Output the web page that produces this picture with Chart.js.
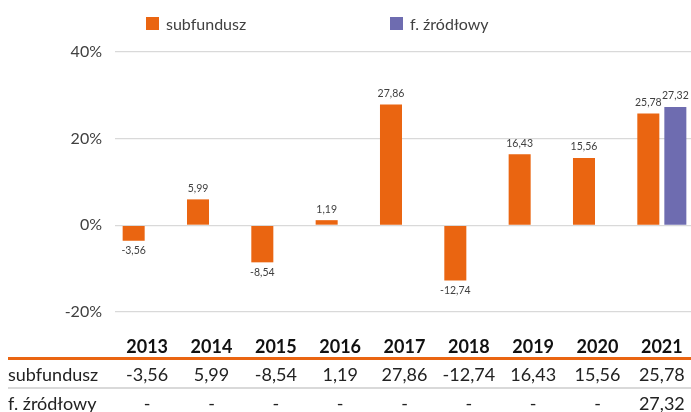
<!DOCTYPE html>
<html><head><meta charset="utf-8">
<script src="https://cdn.jsdelivr.net/npm/chart.js@4/dist/chart.umd.min.js"></script>
<style>
html,body{margin:0;padding:0;overflow:hidden;background:#fff;width:691px;height:412px;}
#wrap{position:absolute;left:0;top:0;width:720px;height:412px;}
#legend{position:absolute;left:0;top:0;width:691px;height:40px;font-family:Lato,sans-serif;font-size:16px;color:#404040;}
.li{position:absolute;top:16px;height:15px;display:flex;align-items:center;white-space:nowrap;}
.sw{width:13px;height:13px;margin-right:7px;display:inline-block;}
</style></head>
<body>
<div id="wrap"><canvas id="c"></canvas></div>
<div id="legend"></div>
<script>
const years = ['2013','2014','2015','2016','2017','2018','2019','2020','2021'];
const subfundusz = [-3.56, 5.99, -8.54, 1.19, 27.86, -12.74, 16.43, 15.56, 25.78];
const zrodlowy = [null, null, null, null, null, null, null, null, 27.32];
const seriesNames = ['subfundusz', 'f. źródłowy'];
const seriesColors = ['#EA6511', '#6E6CB0'];
const yMin = -20, yMax = 40, yStep = 20;

const fmt = v => v == null ? '-' : v.toFixed(2).replace('.', ',');
const FONT = 'Lato, sans-serif';

const dataLabels = {
  id: 'dataLabels',
  afterDatasetsDraw(chart) {
    const ctx = chart.ctx;
    ctx.save();
    ctx.font = '10.5px ' + FONT;
    ctx.fillStyle = '#404040';
    ctx.textAlign = 'center';
    ctx.textBaseline = 'middle';
    chart.data.datasets.forEach((ds, di) => {
      const meta = chart.getDatasetMeta(di);
      meta.data.forEach((bar, i) => {
        const v = ds.data[i];
        if (v == null) return;
        const y = v >= 0 ? bar.y - 11 : bar.y + 10;
        ctx.fillText(fmt(v), bar.x, y);
      });
    });
    ctx.restore();
  }
};

const dataTable = {
  id: 'dataTable',
  afterDraw(chart) {
    const ctx = chart.ctx;
    const xs = chart.scales.x;
    const W = chart.width;
    ctx.save();
    ctx.fillStyle = '#EA6511';
    ctx.fillRect(8, 357, W - 8, 3);
    ctx.fillStyle = '#d9d9d9';
    ctx.fillRect(8, 387, W - 8, 2);
    const rows = [[seriesNames[0], subfundusz, 375], [seriesNames[1], zrodlowy, 404]];
    ctx.font = '18px ' + FONT;
    ctx.fillStyle = '#222';
    ctx.textBaseline = 'middle';
    rows.forEach(([label, arr, y]) => {
      ctx.textAlign = 'left';
      ctx.fillText(label, 8, y);
      ctx.textAlign = 'center';
      arr.forEach((v, i) => ctx.fillText(fmt(v), xs.getPixelForValue(i), y));
    });
    ctx.restore();
  }
};

const chart = new Chart(document.getElementById('c'), {
  type: 'bar',
  data: {
    labels: years,
    datasets: [
      { label: seriesNames[0], data: subfundusz, backgroundColor: seriesColors[0], categoryPercentage: 0.84, barPercentage: 0.815 },
      { label: seriesNames[1], data: zrodlowy, backgroundColor: seriesColors[1], categoryPercentage: 0.84, barPercentage: 0.815 }
    ]
  },
  options: {
    responsive: true,
    maintainAspectRatio: false,
    animation: false,
    layout: { padding: { top: 52, right: 26, bottom: 0, left: 0 } },
    plugins: { legend: { display: false }, tooltip: { enabled: false } },
    scales: {
      x: {
        grid: { display: false, drawTicks: false },
        border: { display: false },
        ticks: { padding: 24, color: '#111', font: { family: FONT, size: 18, weight: 'bold' } },
        afterFit(s) { s.height = 100; }
      },
      y: {
        min: yMin, max: yMax,
        grid: { color: '#d9d9d9', lineWidth: 1.3, drawTicks: false },
        border: { display: false },
        ticks: { stepSize: yStep, padding: 13, color: '#404040', font: { family: FONT, size: 16 }, callback: v => v + '%' },
        afterFit(s) { s.width = 115; }
      }
    }
  },
  plugins: [dataLabels, dataTable]
});

// legend built from the datasets
const legend = document.getElementById('legend');
const legendLeft = [146, 390];
chart.data.datasets.forEach((ds, i) => {
  const d = document.createElement('div');
  d.className = 'li';
  d.style.left = legendLeft[i] + 'px';
  const s = document.createElement('span');
  s.className = 'sw';
  s.style.background = ds.backgroundColor;
  d.appendChild(s);
  d.appendChild(document.createTextNode(ds.label));
  legend.appendChild(d);
});
</script>
</body></html>
